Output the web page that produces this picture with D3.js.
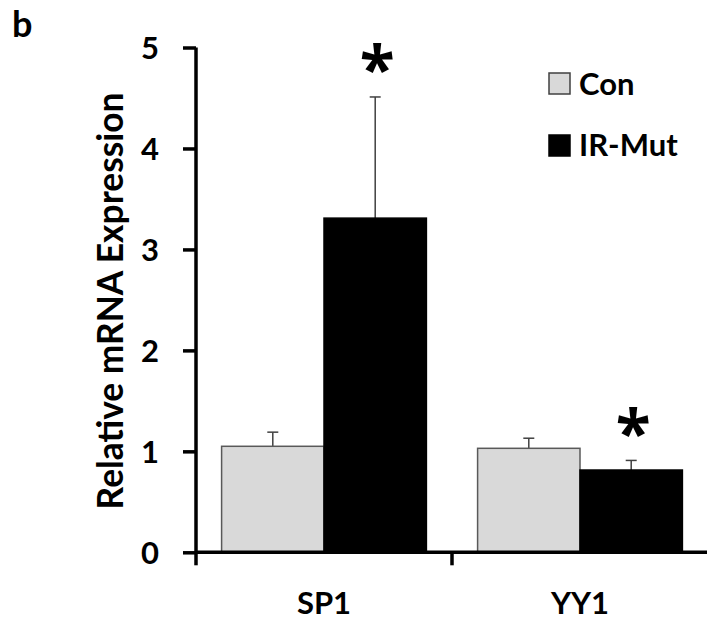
<!DOCTYPE html>
<html>
<head>
<meta charset="utf-8">
<script src="https://cdn.jsdelivr.net/npm/d3@7"></script>
<style>
  body { margin: 0; background: #fff; }
  text { font-family: Lato, "Open Sans", sans-serif; font-weight: bold; fill: #000; }
</style>
</head>
<body>
<script>
const genes = ["SP1", "YY1"];
const groups = ["Con", "IR-Mut"];
const means = {Con: [1.05, 1.03], "IR-Mut": [3.31, 0.815]};
const errTop = {Con: [1.19, 1.13], "IR-Mut": [4.51, 0.91]};
const stars = [{gene: "SP1", group: "IR-Mut"}, {gene: "YY1", group: "IR-Mut"}];
const yTicks = [0, 1, 2, 3, 4, 5];
const colors = {Con: "#d9d9d9", "IR-Mut": "#000"};

const W = 707, H = 620;
const svg = d3.select("body").append("svg")
    .attr("width", W)
    .attr("height", H);

const x = d3.scaleBand().domain(genes).range([196, 708]);
const x1 = d3.scaleBand().domain(groups).range([0, x.bandwidth()]).paddingOuter(0.25);
const y = d3.scaleLinear().domain([0, 5]).range([552.3, 47.5]);

const rows = [];
genes.forEach((g, i) => groups.forEach(k => rows.push({gene: g, group: k, v: means[k][i], e: errTop[k][i]})));

// error bars first so the bars cover the lower half
const eb = svg.append("g").attr("stroke", "#404040").attr("stroke-width", 1.5);
rows.forEach(d => {
  const cx = x(d.gene) + x1(d.group) + x1.bandwidth() / 2;
  eb.append("line").attr("x1", cx).attr("x2", cx).attr("y1", y(d.v)).attr("y2", y(d.e));
  eb.append("line").attr("x1", cx - 5.5).attr("x2", cx + 5.5).attr("y1", y(d.e)).attr("y2", y(d.e));
});

svg.append("g").selectAll("rect")
    .data(rows)
  .enter().append("rect")
    .attr("x", d => x(d.gene) + x1(d.group))
    .attr("y", d => y(d.v))
    .attr("width", x1.bandwidth())
    .attr("height", d => y(0) - y(d.v))
    .attr("fill", d => colors[d.group])
    .attr("stroke", d => d.group === "Con" ? "#595959" : "#000")
    .attr("stroke-width", 1.5);

// significance stars
const st = svg.append("g").selectAll("text")
    .data(stars)
  .enter().append("text")
    .attr("x", d => x(d.gene) + x1(d.group) + x1.bandwidth() / 2 + 2)
    .attr("text-anchor", "middle")
    .style("font-family", "'Open Sans', sans-serif")
    .style("font-size", "64px")
    .text("*");
// put each star's glyph bottom ~25px above its error cap
st.each(function(d) {
  const t = d3.select(this).attr("y", 0);
  const b = this.getBBox();
  const top = y(errTop[d.group][genes.indexOf(d.gene)]);
  t.attr("y", top - 25 - (b.y + b.height * 0.55));
});

// y axis
const yAxis = svg.append("g")
    .attr("transform", "translate(196,0)")
    .call(d3.axisLeft(y).tickValues(yTicks).tickFormat(d3.format("d"))
      .tickSize(13).tickSizeOuter(0).tickPadding(24));
yAxis.select(".domain").attr("stroke-width", 3.5).attr("d", `M0,${y(5)}V${y(0)}`);
yAxis.selectAll(".tick line").attr("stroke-width", 3.5);
yAxis.selectAll(".tick text")
    .attr("font-family", null).attr("font-size", null)
    .style("font-size", "31px").attr("dy", "0.36em");

// x axis: line, boundary ticks, centered labels
const xg = svg.append("g");
xg.append("line")
    .attr("x1", 196).attr("x2", 708).attr("y1", y(0)).attr("y2", y(0))
    .attr("stroke", "#000").attr("stroke-width", 3.5);
xg.selectAll(".xt")
    .data(genes)
  .enter().append("line")
    .attr("x1", d => x(d)).attr("x2", d => x(d))
    .attr("y1", y(0)).attr("y2", y(0) + 13)
    .attr("stroke", "#000").attr("stroke-width", 3.5);
xg.selectAll(".xl")
    .data(genes)
  .enter().append("text")
    .attr("x", d => x(d) + x.bandwidth() / 2)
    .attr("y", 614)
    .attr("text-anchor", "middle")
    .style("font-size", "31px")
    .text(d => d);

// y label, fitted to its length in the figure
const yl = svg.append("text")
    .attr("transform", "translate(123,301) rotate(-90)")
    .attr("text-anchor", "middle")
    .style("font-size", "30px")
    .text("Relative mRNA Expression");
const len = yl.node().getComputedTextLength();
yl.style("font-size", (30 * 417 / len) + "px");

// legend
const lg = svg.append("g");
groups.forEach((k, i) => {
  lg.append("rect")
      .attr("x", 549).attr("y", 73 + i * 62)
      .attr("width", 21).attr("height", 21)
      .attr("fill", colors[k])
      .attr("stroke", k === "Con" ? "#404040" : "#000")
      .attr("stroke-width", 1.5);
  lg.append("text")
      .attr("x", 579).attr("y", 95 + i * 61)
      .style("font-size", "31px")
      .text(k);
});

// panel letter
svg.append("text")
    .attr("x", 12).attr("y", 37)
    .style("font-size", "36px")
    .text("b");
</script>
</body>
</html>
